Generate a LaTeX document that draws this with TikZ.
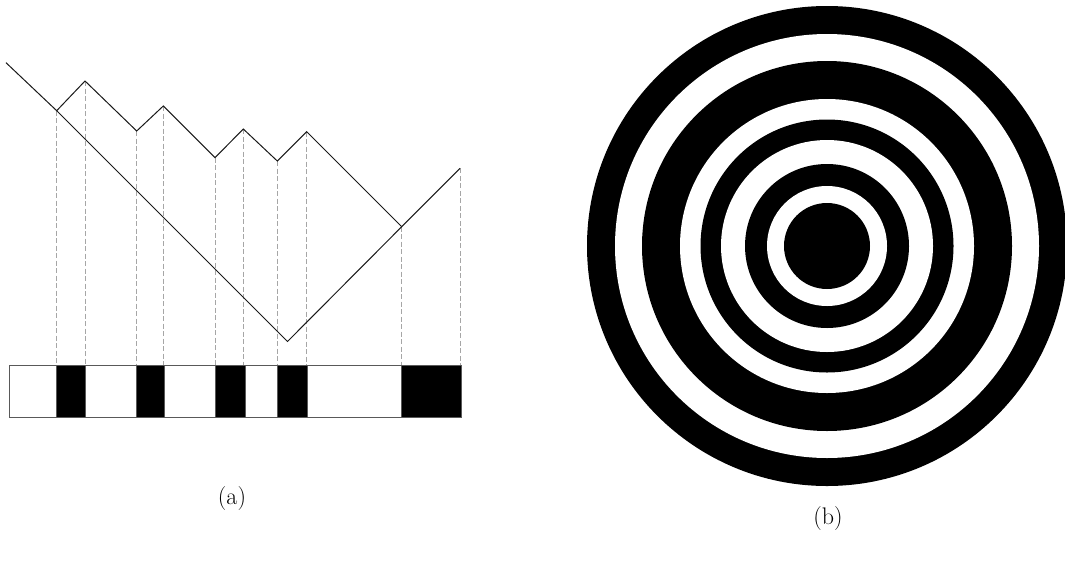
\documentclass[tikz,border=0pt]{standalone}
\begin{document}
\begin{tikzpicture}[x=1pt,y=-1pt,
  zig/.style={draw=black!90,line width=1pt,line join=miter},
  guide/.style={draw=black!35,line width=0.8pt,dash pattern=on 5pt off 2.5pt},
  barframe/.style={draw=black!65,line width=1pt,fill=white},
  barblack/.style={fill=black,draw=black!65,line width=0.6pt},
  ringblack/.style={fill=black},
  ringwhite/.style={fill=white},
  caption/.style={font=\fontsize{24}{29}\selectfont,inner sep=0pt}]
\useasboundingbox (0,0) rectangle (1065,560);
% vertices of the zigzag
\coordinate (P0) at (6,62.7);
\coordinate (V1) at (56.7,110.7);
\coordinate (T1) at (85,81);
\coordinate (V2) at (136.7,131);
\coordinate (T2) at (163.3,106);
\coordinate (V3) at (215,157.7);
\coordinate (T3) at (243.3,129);
\coordinate (V4) at (277.3,161);
\coordinate (T4) at (306.7,131.7);
\coordinate (V5) at (401.7,226.7);
\coordinate (E) at (460,168.3);
\coordinate (B) at (287.5,341.5);
% guides
\foreach \p in {V1,T1,V2,T2,V3,T3,V4,T4,V5,E}{
  \draw[guide] (\p) -- (\p |- 0,365.7);
}
% bar
\draw[barframe] (9.3,365.7) rectangle (461,417.7);
\draw[barblack] (56.7,365.7) rectangle (85,417.7);
\draw[barblack] (136.7,365.7) rectangle (164,417.7);
\draw[barblack] (215.5,365.7) rectangle (245,417.7);
\draw[barblack] (277.3,365.7) rectangle (307.5,417.7);
\draw[barblack] (401.7,365.7) rectangle (461,417.7);
% zigzag lines
\draw[zig] (P0) -- (V1) -- (T1) -- (V2) -- (T2) -- (V3) -- (T3) -- (V4) -- (T4) -- (V5) -- (E);
\draw[zig] (V1) -- (B) -- (V5);
\node[caption] (capa) at (232,499) {(a)};
% target
\coordinate (C) at (827,246);
\fill[ringblack] (C) circle[radius=240];
\fill[ringwhite] (C) circle[radius=212];
\fill[ringblack] (C) circle[radius=185];
\fill[ringwhite] (C) circle[radius=147];
\fill[ringblack] (C) circle[radius=126.5];
\fill[ringwhite] (C) circle[radius=106];
\fill[ringblack] (C) circle[radius=82];
\fill[ringwhite] (C) circle[radius=60];
\fill[ringblack] (C) circle[radius=43];
\node[caption] (capb) at (828,519) {(b)};
\end{tikzpicture}
\end{document}
